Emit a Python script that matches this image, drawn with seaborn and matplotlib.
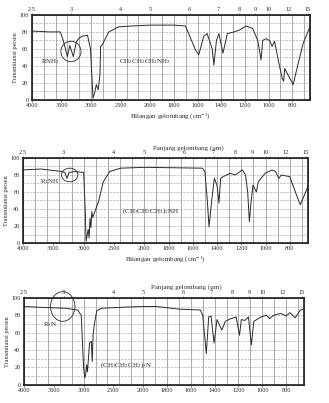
"""IR spectra of primary, secondary and tertiary propylamines (scanned textbook figure)."""

import numpy as np
import pandas as pd
import matplotlib

matplotlib.use("Agg")
import matplotlib.pyplot as plt
import seaborn as sns
from matplotlib.patches import Ellipse

# --- data -------------------------------------------------------------------
# propylamine, CH3CH2CH2NH2
wn_primary = [4000, 3700, 3520, 3470, 3400, 3360, 3300, 3250, 3200, 3145, 3060, 3010, 2967,
              2940, 2911, 2878, 2850, 2838, 2810, 2700, 2533, 2311, 2000, 1800, 1703, 1675,
              1618, 1590, 1547, 1519, 1476, 1462, 1440, 1419, 1385, 1348, 1291, 1248, 1190,
              1134, 1091, 1063, 1049, 1021, 992, 969, 949, 906, 883, 872, 863, 849, 806, 792,
              749, 706, 650]
t_primary = [81, 80, 80, 70, 51, 64, 51, 68, 73, 75, 76, 60, 2, 8, 18, 12, 30, 63, 65, 80, 86,
             87, 88, 88, 87, 78, 59, 53, 75, 78, 60, 41, 70, 78, 55, 78, 80, 82, 87, 84, 70, 47,
             70, 72, 70, 63, 69, 39, 25, 22, 37, 33, 22, 18, 43, 67, 86]

# dipropylamine, (CH3CH2CH2)2NH
wn_secondary = [4000, 3700, 3350, 3310, 3275, 3240, 3150, 3000, 2975, 2960, 2940, 2925, 2910,
                2895, 2880, 2865, 2850, 2754, 2676, 2571, 2390, 2000, 1520, 1500, 1480, 1466,
                1440, 1422, 1400, 1384, 1370, 1350, 1293, 1250, 1191, 1165, 1147, 1133, 1118,
                1104, 1075, 1060, 1003, 946, 917, 890, 870, 800, 743, 714, 671, 642]
t_secondary = [86, 87, 84, 83, 76, 83, 84, 83, 40, 2, 10, 16, 6, 29, 18, 37, 30, 49, 72, 84, 88,
               89, 88, 84, 50, 19, 55, 76, 68, 47, 76, 78, 82, 80, 86, 80, 60, 25, 50, 68, 60, 72,
               82, 86, 84, 76, 80, 78, 56, 45, 59, 70]

# tripropylamine, (CH3CH2CH2)3N
wn_tertiary = [4000, 3700, 3300, 3100, 3040, 3000, 2980, 2965, 2950, 2935, 2900, 2870, 2855,
               2840, 2820, 2780, 2700, 2400, 2000, 1885, 1700, 1520, 1500, 1470, 1450, 1430,
               1405, 1380, 1340, 1310, 1265, 1220, 1191, 1176, 1146, 1116, 1092, 1071, 1010, 965,
               940, 904, 844, 800, 769, 724, 700, 679, 650]
t_tertiary = [90, 89, 88, 86, 80, 20, 8, 12, 23, 15, 48, 50, 27, 58, 69, 85, 88, 89, 90, 90, 87,
              86, 80, 36, 78, 79, 48, 75, 63, 73, 76, 78, 57, 75, 74, 78, 46, 73, 78, 80, 76, 80,
              82, 79, 83, 77, 82, 86, 87]

names = ["CH$_3$CH$_2$CH$_2$NH$_2$", "(CH$_3$CH$_2$CH$_2$)$_2$NH", "(CH$_3$CH$_2$CH$_2$)$_3$N"]
classes = ["RNH$_2$", "R$_2$NH", "R$_3$N"]
wn_ticks = [4000, 3500, 3000, 2500, 2000, 1800, 1600, 1400, 1200, 1000, 800]
um_ticks = [2.5, 3, 4, 5, 6, 7, 8, 9, 10, 12, 15]
t_ticks = [0, 20, 40, 60, 80, 100]


def fwd(w):
    # grating chart: 4000-2000 cm-1 at half the scale of 2000-650 cm-1
    w = np.asarray(w, dtype=float)
    return np.where(w < 2000, w, 2000 + (w - 2000) / 2)


def inv(t):
    t = np.asarray(t, dtype=float)
    return np.where(t < 2000, t, 2000 + 2 * (t - 2000))


sns.set_theme(style="white")
plt.rcParams["font.family"] = ["Liberation Serif", "DejaVu Serif"]
plt.rcParams["mathtext.fontset"] = "stix"
fig = plt.figure(figsize=(3.29, 4.03), dpi=100)

boxes = [[0.097, 0.752, 0.845, 0.211],
         [0.070, 0.397, 0.866, 0.211],
         [0.073, 0.045, 0.851, 0.216]]
spectra = [(wn_primary, t_primary), (wn_secondary, t_secondary), (wn_tertiary, t_tertiary)]
ellipses = [(3340, 57, 340, 24), (3230, 80, 270, 16), (3350, 90, 410, 34)]
class_pos = [(3680, 45), (3560, 72), (3560, 69)]
name_pos = [(2080, 45), (1950, 37), (2280, 23)]

grid_wn = list(range(4000, 2000, -200)) + list(range(2000, 600, -100))
ink = "#2b2b2b"

for i, (box, (wn, tr)) in enumerate(zip(boxes, spectra)):
    ax = fig.add_axes(box)
    df = pd.DataFrame({"wn": wn, "T": tr})
    sns.lineplot(data=df, x="wn", y="T", ax=ax, sort=False, estimator=None,
                 color=ink, linewidth=0.7)
    ax.set_xscale("function", functions=(fwd, inv))
    ax.set_xlim(4000, 650)
    ax.set_ylim(0, 100)

    for g in grid_wn:
        ax.axvline(g, color="#8a8a8a", linewidth=0.5, zorder=0)
    for h in range(10, 100, 10):
        ax.axhline(h, color="#9a9a9a", linewidth=0.4, linestyle=(0, (4, 2)), zorder=0)

    ax.set_xticks(wn_ticks)
    ax.set_xticklabels([str(w) for w in wn_ticks])
    ax.set_yticks(t_ticks)
    ax.tick_params(labelsize=4.5, length=1.5, width=0.4, pad=1, colors=ink)
    ax.set_ylabel("Transmitansi persen", fontsize=4.5, labelpad=1, color=ink)
    if i < 2:
        ax.set_xlabel("Bilangan gelombang (cm$^{-1}$)", fontsize=5, labelpad=2, color=ink)
    else:
        ax.set_xlabel("")
    for s in ax.spines.values():
        s.set_linewidth(0.5)
        s.set_color(ink)

    top = ax.twiny()
    top.set_xscale("function", functions=(fwd, inv))
    top.set_xlim(4000, 650)
    top.set_xticks([10000 / u for u in um_ticks])
    top.set_xticklabels([f"{u:g}" for u in um_ticks])
    top.tick_params(labelsize=4.5, length=1.5, width=0.4, pad=0.5, colors=ink)
    top.grid(False)
    if i > 0:
        top.set_xlabel("Panjang gelombang (\u03bcm)", fontsize=5, labelpad=2, color=ink)
        top.xaxis.set_label_coords(0.58, 1.1)

    ex, ey, ew, eh = ellipses[i]
    ax.add_patch(Ellipse((ex, ey), ew, eh, fill=False, edgecolor=ink,
                         linewidth=0.6, clip_on=False))
    cx, cy = class_pos[i]
    ax.text(cx, cy, classes[i], fontsize=5, ha="center", va="center", color=ink)
    nx, ny = name_pos[i]
    ax.text(nx, ny, names[i], fontsize=5, ha="center", va="center", color=ink)

fig.savefig("out.png", dpi=100)
